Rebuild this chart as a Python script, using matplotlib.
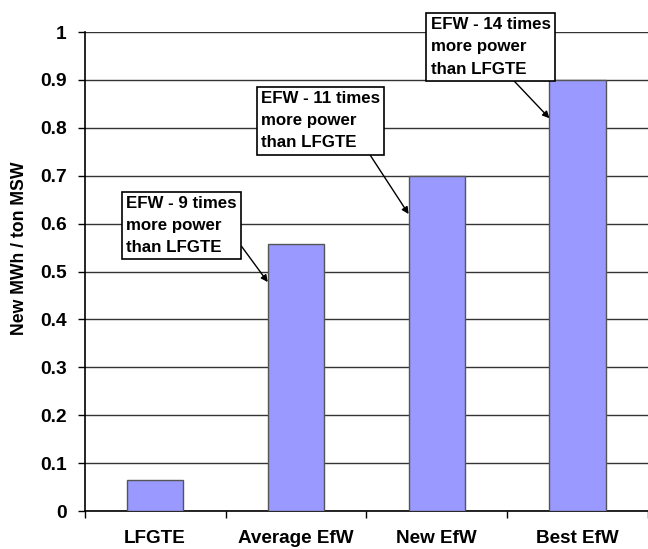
import numpy as np
import matplotlib
matplotlib.use("Agg")
import matplotlib.pyplot as plt

plt.rcParams['font.family'] = ['Liberation Sans', 'DejaVu Sans']
plt.rcParams['font.weight'] = 'bold'

# chart data
categories = ['LFGTE', 'Average EfW', 'New EfW', 'Best EfW']
mwh_per_ton = [0.065, 0.558, 0.70, 0.90]
yticks = [0, 0.1, 0.2, 0.3, 0.4, 0.5, 0.6, 0.7, 0.8, 0.9, 1]
ytick_labels = ['0', '0.1', '0.2', '0.3', '0.4', '0.5', '0.6', '0.7', '0.8', '0.9', '1']
notes = ['EFW - 9 times\nmore power\nthan LFGTE',
         'EFW - 11 times\nmore power\nthan LFGTE',
         'EFW - 14 times\nmore power\nthan LFGTE']
note_bars = [1, 2, 3]

fig = plt.figure(figsize=(6.48, 5.49), dpi=100)
ax = fig.add_axes([0.1307, 0.0692, 0.8693, 0.8725])

x = np.arange(len(categories))
bar_w = 0.40
ax.bar(x, mwh_per_ton, width=bar_w, color='#9999FF', edgecolor='#555555', linewidth=1, zorder=3)

ax.set_xlim(-0.5, len(categories) - 0.5)
ax.set_ylim(0, 1)
ax.set_yticks(yticks)
ax.set_yticklabels(ytick_labels, fontsize=13.8, fontweight='bold')
ax.yaxis.grid(True, color='#333333', linewidth=1, zorder=0)
ax.set_axisbelow(True)

# category labels on minor ticks, boundary marks on major ticks
ax.set_xticks(np.arange(len(categories) + 1) - 0.5)
ax.set_xticklabels([])
ax.set_xticks(x, minor=True)
ax.set_xticklabels(categories, minor=True, fontsize=13.6, fontweight='bold')
ax.tick_params(axis='x', which='major', length=5, width=1, direction='out')
ax.tick_params(axis='x', which='minor', length=0, pad=14)
ax.tick_params(axis='y', length=5, width=1, direction='out', pad=8)

for s in ['top', 'right']:
    ax.spines[s].set_visible(False)
for s in ['left', 'bottom']:
    ax.spines[s].set_linewidth(1.2)

ax.set_ylabel('New MWh / ton MSW', fontsize=12.7, fontweight='bold')
ax.yaxis.set_label_coords(-0.1005, 0.548)

# annotation boxes: text position (data coords) and where the arrow leaves the box
text_pos = [(-0.206, 0.658), (0.752, 0.877), (1.957, 1.031)]
rel_pos = [(1.0, 0.26), (0.89, 0.0), (0.66, 0.0)]
for note, bi, tp, rp in zip(notes, note_bars, text_pos, rel_pos):
    head = (bi - bar_w / 2, mwh_per_ton[bi] - 0.08)
    ax.annotate(note, xy=head, xytext=tp, ha='left', va='top',
                fontsize=12.2, fontweight='bold', linespacing=1.6,
                bbox=dict(boxstyle='square,pad=0.25', fc='white', ec='black', lw=1.2),
                arrowprops=dict(arrowstyle='-|>', color='black', lw=1,
                                mutation_scale=10, shrinkA=0, shrinkB=0, relpos=rp),
                annotation_clip=False, zorder=5)

fig.savefig('out.png', dpi=100)
